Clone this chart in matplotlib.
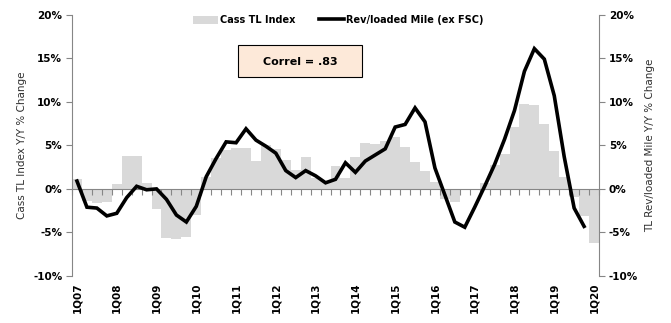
import matplotlib
matplotlib.use("Agg")
import matplotlib.pyplot as plt
import matplotlib.patches as patches
from matplotlib.ticker import FuncFormatter, MultipleLocator
import numpy as np

# quarterly y/y % change, 1Q07 .. 1Q20
cass_tl_index = [
    1.15, -1.4, -1.6, -1.5, 0.6, 3.8, 3.8, 0.7,
    -2.3, -5.6, -5.7, -5.5, -3.0, 1.4, 3.55, 4.5,
    4.65, 4.65, 3.2, 5.0, 4.55, 3.3, 2.2, 3.66,
    1.3, 0.8, 2.63, 1.3, 3.7, 5.3, 5.15, 5.5,
    5.95, 4.8, 3.1, 2.05, 0.84, -1.15, -1.45, -0.1,
    0.0, 0.7, 2.75, 4.05, 7.1, 9.7, 9.6, 7.45,
    4.35, 1.4, -0.9, -3.15, -6.25,
]
rev_loaded_mile = [
    0.9, -2.1, -2.2, -3.1, -2.8, -1.0, 0.3, -0.1,
    0.0, -1.2, -3.0, -3.8, -2.0, 1.4, 3.5, 5.4,
    5.3, 6.9, 5.6, 4.9, 4.1, 2.1, 1.3, 2.1,
    1.5, 0.7, 1.1, 3.0, 1.9, 3.2, 3.9, 4.6,
    7.1, 7.4, 9.3, 7.7, 2.4, -0.7, -3.8, -4.4,
    -2.1, 0.3, 2.8, 5.7, 9.0, 13.5, 16.1, 14.9,
    10.7, 3.7, -2.2, -4.3,
]
year_labels = ["1Q07", "1Q08", "1Q09", "1Q10", "1Q11", "1Q12", "1Q13",
               "1Q14", "1Q15", "1Q16", "1Q17", "1Q18", "1Q19", "1Q20"]

axis_gray = "#868686"
bar_gray = "#D9D9D9"
pct = FuncFormatter(lambda v, _: f"{v:.0f}%")

fig = plt.figure(figsize=(6.71, 3.23), dpi=100)
ax = fig.add_axes([72 / 671, 1 - 276 / 323, 527 / 671, (276 - 14.7) / 323])
ax2 = ax.twinx()

n = len(cass_tl_index)
x = np.arange(n)
ax.bar(x, cass_tl_index, width=1.0, color=bar_gray, label="Cass TL Index", zorder=1)
ax2.plot(np.arange(len(rev_loaded_mile)), rev_loaded_mile, color="black", lw=2.6,
         solid_joinstyle="miter", label="Rev/loaded Mile (ex FSC)")

for a in (ax, ax2):
    a.set_xlim(-0.5, n - 0.5)
    a.set_ylim(-10, 20)
    a.yaxis.set_major_locator(MultipleLocator(5))
    a.yaxis.set_major_formatter(pct)
    a.spines["top"].set_visible(False)
    for s in a.spines.values():
        s.set_color(axis_gray)

# category axis sits on the zero line, ticks between categories
ax.spines["right"].set_visible(False)
ax.spines["bottom"].set_position(("data", 0))
ax.set_xticks(np.arange(n + 1) - 0.5)
ax.tick_params(axis="x", length=4, color=axis_gray, labelbottom=False)
ax2.spines["left"].set_visible(False)
ax2.spines["bottom"].set_visible(False)

for a in (ax, ax2):
    a.tick_params(axis="y", length=4, color=axis_gray, labelsize=7.5, pad=3)
    for lbl in a.get_yticklabels():
        lbl.set_fontweight("bold")

sec = ax.secondary_xaxis(0)
sec.set_xticks(np.arange(0, n, 4), year_labels, rotation=90,
               fontsize=7.5, fontweight="bold")
sec.tick_params(length=0, pad=4.5)
sec.spines["bottom"].set_visible(False)

ax.set_ylabel("Cass TL Index Y/Y % Change", fontsize=7.5, color="#303030")
ax.yaxis.set_label_coords((27 - 72) / 527, 0.5)
ax2.set_ylabel("TL Rev/loaded Mile Y/Y % Change", fontsize=7.5, color="#303030")
ax2.yaxis.set_label_coords((645 - 72) / 527, 0.5)

h1, l1 = ax.get_legend_handles_labels()
h2, l2 = ax2.get_legend_handles_labels()
fig.legend(h1 + h2, l1 + l2, loc="center", bbox_to_anchor=(338 / 671, 1 - 20 / 323),
           ncol=2, frameon=False, prop={"size": 7, "weight": "bold"},
           handlelength=2.6, handletextpad=0.2, columnspacing=2.4, handleheight=0.9)

box = patches.Rectangle((238 / 671, 1 - 77 / 323), 124 / 671, 32 / 323,
                        transform=fig.transFigure, facecolor="#FDE9D9",
                        edgecolor="black", lw=0.8)
fig.add_artist(box)
fig.text(300 / 671, 1 - 62 / 323, "Correl = .83", ha="center", va="center",
         fontsize=8, fontweight="bold")

fig.savefig("out.png", dpi=100)
